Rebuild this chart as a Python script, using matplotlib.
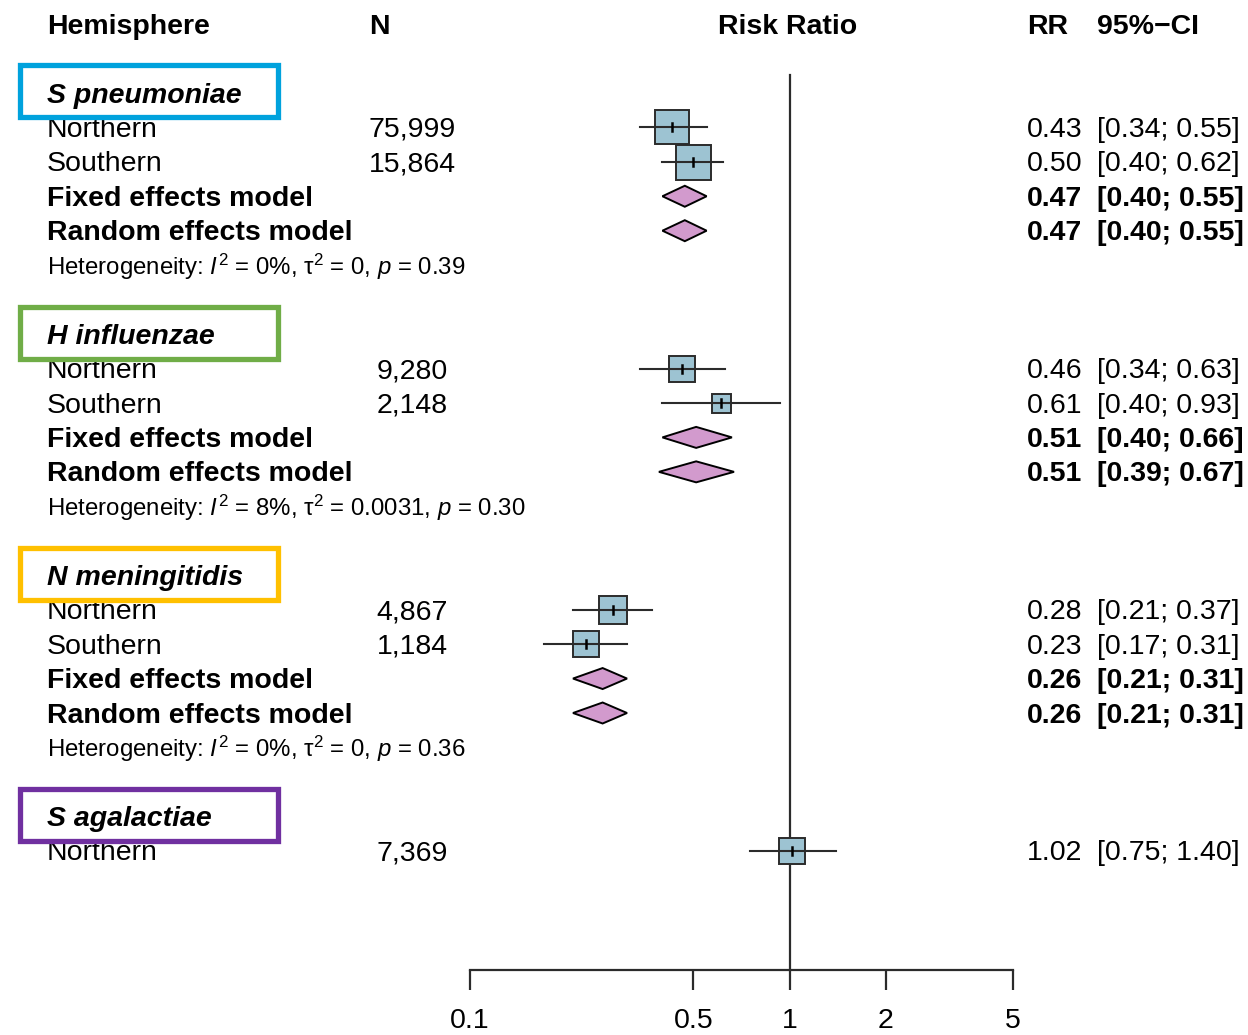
import numpy as np
import matplotlib
matplotlib.use('Agg')
import matplotlib.pyplot as plt
from matplotlib.patches import Rectangle
from matplotlib.transforms import blended_transform_factory

plt.rcParams['font.family'] = ['Liberation Sans', 'DejaVu Sans']
plt.rcParams['mathtext.fontset'] = 'custom'
plt.rcParams['mathtext.rm'] = 'Liberation Sans'
plt.rcParams['mathtext.it'] = 'Liberation Sans:italic'

# data
group_names = ['S pneumoniae', 'H influenzae', 'N meningitidis', 'S agalactiae']
group_colors = ['#00a2dd', '#70ad47', '#ffc000', '#7030a0']

study_hemi = [['Northern', 'Southern'], ['Northern', 'Southern'],
              ['Northern', 'Southern'], ['Northern']]
study_n = [['75,999', '15,864'], ['9,280', '2,148'], ['4,867', '1,184'], ['7,369']]
study_rr = [[0.43, 0.50], [0.46, 0.61], [0.28, 0.23], [1.02]]
study_lo = [[0.34, 0.40], [0.34, 0.40], [0.21, 0.17], [0.75]]
study_hi = [[0.55, 0.62], [0.63, 0.93], [0.37, 0.31], [1.40]]

fixed_rr = [0.47, 0.51, 0.26]
fixed_lo = [0.40, 0.40, 0.21]
fixed_hi = [0.55, 0.66, 0.31]
random_rr = [0.47, 0.51, 0.26]
random_lo = [0.40, 0.39, 0.21]
random_hi = [0.55, 0.67, 0.31]

het_i2 = ['0%', '8%', '0%']
het_tau2 = ['0', '0.0031', '0']
het_p = ['0.39', '0.30', '0.36']

xticks = [0.1, 0.5, 1, 2, 5]

# square side in pixels (study weight)
box_px = [[34, 35], [26, 19], [28, 27], [26]]

W, H = 1248, 1035
ROW = 34.45          # pixels per row
TOP = 24             # pixel y of header row
FS = 20.5
FS_HET = 17.3

fig = plt.figure(figsize=(W / 100, H / 100), dpi=100)
ax = fig.add_axes([470 / W, 0, 543 / W, 1])
ax.set_xscale('log')
ax.set_xlim(0.1, 5)
ax.set_ylim((H - TOP) / ROW, -TOP / ROW)
ax.patch.set_visible(False)

tr = blended_transform_factory(fig.transFigure, ax.transData)
fx = lambda px: px / W
BL = 0.28  # baseline offset in rows


def txt(px, row, s, ha='left', **kw):
    ax.text(fx(px), row + BL, s, transform=tr, ha=ha, va='baseline',
            fontsize=kw.pop('fontsize', FS), clip_on=False, **kw)


# header
txt(47, 0, 'Hemisphere', fontweight='bold')
txt(369, 0, 'N', fontweight='bold')
txt(788, 0, 'Risk Ratio', ha='center', fontweight='bold')
txt(1027, 0, 'RR', fontweight='bold')
txt(1097, 0, '95%\u2212CI', fontweight='bold')

line_c = '#2b2b2b'
sq_c = '#9dc3d2'
dia_c = '#d29acd'
dh = 10.5 / ROW

row = 2
for g, name in enumerate(group_names):
    # coloured box around group label
    ax.add_patch(Rectangle((fx(19.5), row - 27.5 / ROW), fx(258), 52 / ROW,
                           transform=tr, fill=False, edgecolor=group_colors[g],
                           linewidth=3.8, clip_on=False, zorder=5))
    txt(47, row, name, fontweight='bold', fontstyle='italic')
    row += 1
    for k, hemi in enumerate(study_hemi[g]):
        rr, lo, hi = study_rr[g][k], study_lo[g][k], study_hi[g][k]
        txt(47, row, hemi)
        txt(412, row, study_n[g][k], ha='center')
        txt(1027, row, f'{rr:.2f}')
        txt(1097, row, f'[{lo:.2f}; {hi:.2f}]')
        ax.plot([rr], [row], marker='s', markersize=box_px[g][k] * 0.72,
                markerfacecolor=sq_c, markeredgecolor=line_c,
                markeredgewidth=1.4, zorder=3)
        ax.plot([lo, hi], [row, row], color=line_c, lw=1.5, zorder=4)
        ax.plot([rr, rr], [row - 4 / ROW, row + 4 / ROW], color='black', lw=1.8, zorder=4)
        row += 1
    if g < len(fixed_rr):
        pooled = [('Fixed effects model', fixed_rr[g], fixed_lo[g], fixed_hi[g]),
                  ('Random effects model', random_rr[g], random_lo[g], random_hi[g])]
        for lab, rr, lo, hi in pooled:
            txt(47, row, lab, fontweight='bold')
            txt(1027, row, f'{rr:.2f}', fontweight='bold')
            txt(1097, row, f'[{lo:.2f}; {hi:.2f}]', fontweight='bold')
            ax.fill([lo, rr, hi, rr], [row, row - dh, row, row + dh],
                    facecolor=dia_c, edgecolor='black', lw=1.4, zorder=3)
            row += 1
        txt(47, row, 'Heterogeneity: $I^2$ = ' + het_i2[g] + ', $\\mathrm{\\tau}^2$ = '
            + het_tau2[g] + ', $p$ = ' + het_p[g], fontsize=FS_HET)
        row += 2

# reference line at RR = 1 and bottom axis
axis_row = (970 - TOP) / ROW
ax.plot([1, 1], [(75 - TOP) / ROW, axis_row], color=line_c, lw=1.6, zorder=2)

for s in ['top', 'left', 'right']:
    ax.spines[s].set_visible(False)
ax.spines['bottom'].set_position(('data', axis_row))
ax.spines['bottom'].set_color(line_c)
ax.spines['bottom'].set_linewidth(1.6)
ax.set_yticks([])
ax.set_xticks(xticks)
ax.set_xticklabels(['0.1', '0.5', '1', '2', '5'])
ax.minorticks_off()
ax.tick_params(axis='x', direction='out', length=14.4, width=1.6, color=line_c,
               labelsize=FS, pad=13)

fig.savefig('out.png', dpi=100)
